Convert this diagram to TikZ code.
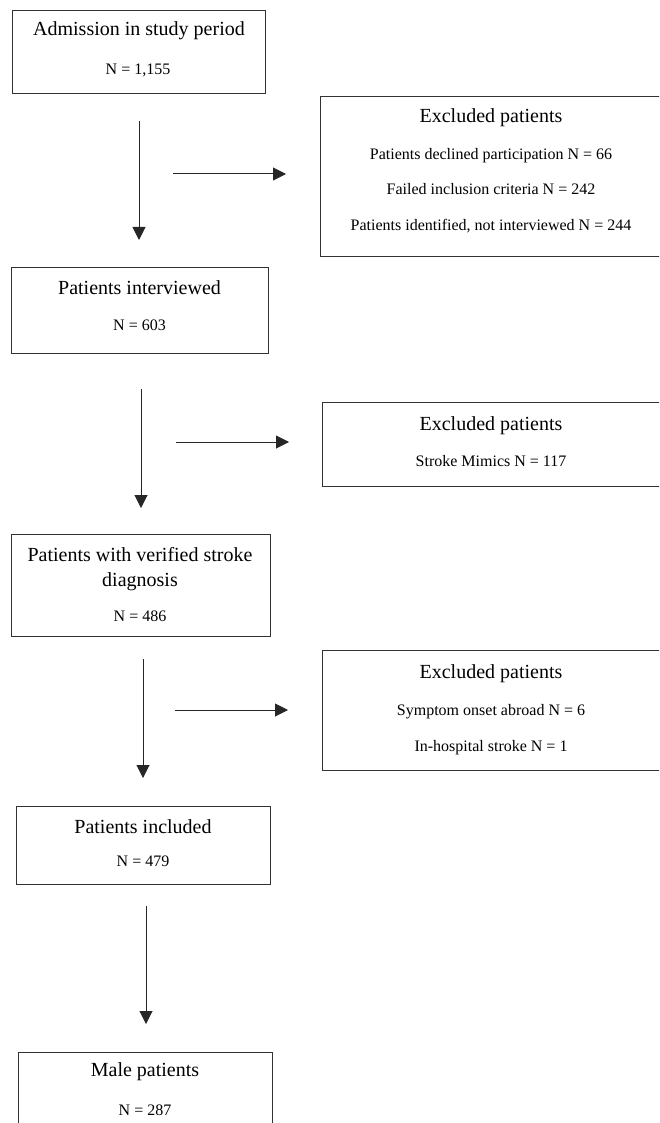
\documentclass[tikz,border=0pt]{standalone}
\usepackage{fontspec}
\setmainfont{Liberation Serif}
\usetikzlibrary{arrows.meta}
\begin{document}
\begin{tikzpicture}[x=1pt,y=-1pt,
  box/.style={draw=black!80,line width=1pt,inner sep=0pt,anchor=north west},
  ttl/.style={anchor=base,inner sep=0pt,font=\fontsize{20}{24}\selectfont},
  txt/.style={anchor=base,inner sep=0pt,font=\fontsize{16}{19}\selectfont},
  arr/.style={draw=black!85,line width=1pt,-{Triangle[length=13pt,width=13pt]}}]
\useasboundingbox (0,0) rectangle (659,1123);
\clip (0,0) rectangle (659,1123);
% boxes
\node[box,minimum width=253pt,minimum height=83pt] (b1) at (12,10) {};
\node[box,minimum width=342pt,minimum height=160pt] (e1) at (320,96) {};
\node[box,minimum width=257pt,minimum height=86pt] (b2) at (11,267) {};
\node[box,minimum width=340pt,minimum height=84pt] (e2) at (322,402) {};
\node[box,minimum width=259pt,minimum height=102pt] (b3) at (11,534) {};
\node[box,minimum width=340pt,minimum height=120pt] (e3) at (322,650) {};
\node[box,minimum width=254pt,minimum height=78pt] (b4) at (16,806) {};
\node[box,minimum width=254pt,minimum height=90pt] (b5) at (18,1052) {};
% texts
\node[ttl] (t1) at (139,36) {Admission in study period};
\node[txt] (n1) at (138,75) {N = 1,155};
\node[ttl] (te1) at (491,123) {Excluded patients};
\node[txt] (l11) at (491,160) {Patients declined participation N = 66};
\node[txt] (l12) at (491,195) {Failed inclusion criteria N = 242};
\node[txt] (l13) at (491,230) {Patients identified, not interviewed N = 244};
\node[ttl] (t2) at (139.5,294) {Patients interviewed};
\node[txt] (n2) at (139.5,330) {N = 603};
\node[ttl] (te2) at (491,430) {Excluded patients};
\node[txt] (l21) at (491,466) {Stroke Mimics N = 117};
\node[ttl] (t3a) at (140,561) {Patients with verified stroke};
\node[ttl] (t3b) at (140,586) {diagnosis};
\node[txt] (n3) at (140,621) {N = 486};
\node[ttl] (te3) at (491,678) {Excluded patients};
\node[txt] (l31) at (491,715) {Symptom onset abroad N = 6};
\node[txt] (l32) at (491,751) {In-hospital stroke N = 1};
\node[ttl] (t4) at (143,833) {Patients included};
\node[txt] (n4) at (143,866) {N = 479};
\node[ttl] (t5) at (145,1076) {Male patients};
\node[txt] (n5) at (145,1115) {N = 287};
% arrow end points
\coordinate (v1s) at (139,121); \coordinate (v1e) at (139,240);
\coordinate (h1s) at (173,174); \coordinate (h1e) at (286,174);
\coordinate (v2s) at (141,389); \coordinate (v2e) at (141,508);
\coordinate (h2s) at (176,442); \coordinate (h2e) at (289,442);
\coordinate (v3s) at (143,659); \coordinate (v3e) at (143,778);
\coordinate (h3s) at (175,710); \coordinate (h3e) at (288,710);
\coordinate (v4s) at (146,906); \coordinate (v4e) at (146,1024);
\draw[arr] (v1s) -- (v1e);
\draw[arr] (h1s) -- (h1e);
\draw[arr] (v2s) -- (v2e);
\draw[arr] (h2s) -- (h2e);
\draw[arr] (v3s) -- (v3e);
\draw[arr] (h3s) -- (h3e);
\draw[arr] (v4s) -- (v4e);
\end{tikzpicture}
\end{document}
